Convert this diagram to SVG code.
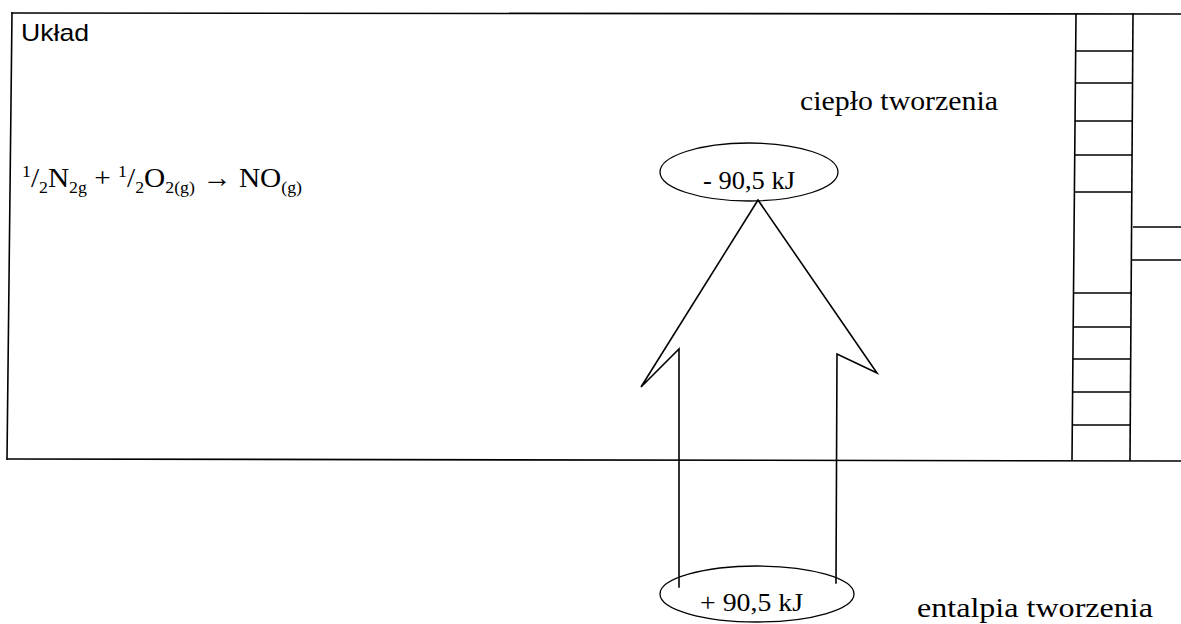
<svg xmlns="http://www.w3.org/2000/svg" width="1181" height="624" viewBox="0 0 1181 624">
  <style>
    .ln { fill: none; stroke: #000; stroke-width: 1.6; stroke-linecap: square; }
    .thin { fill: none; stroke: #000; stroke-width: 1.3; }
    .serif { font-family: "Liberation Serif", "Times New Roman", serif; fill: #000; }
    .sans { font-family: "Liberation Sans", Arial, sans-serif; fill: #000; }
  </style>
  <rect width="1181" height="624" fill="#fff"/>

  <!-- system boundary -->
  <g id="system">
    <path class="ln" d="M12,13 L1181,14"/>
    <path class="ln" d="M12,13 L7,459"/>
    <path class="ln" d="M7,459 L1181,461"/>
    <text class="sans" x="21" y="41" font-size="24" textLength="68" lengthAdjust="spacingAndGlyphs">Układ</text>
  </g>

  <!-- wall column on the right -->
  <g id="wall">
    <path class="ln" d="M1076,14 L1072,460"/>
    <path class="ln" d="M1133,14 L1130,460"/>
    <path class="thin" d="M1076,51 H1133 M1076,83 H1133 M1075,121 H1132 M1075,155 H1132 M1075,192 H1132 M1074,293 H1131 M1074,327 H1131 M1073,359 H1131 M1073,392 H1130 M1073,425 H1130"/>
    <path class="thin" d="M1133,227 H1181 M1132,260 H1181"/>
  </g>

  <!-- reaction equation -->
  <g id="equation">
    <text class="serif" x="22" y="187" font-size="28" textLength="280" lengthAdjust="spacingAndGlyphs"><tspan font-size="17" dy="-10">1</tspan><tspan dy="10">/</tspan><tspan font-size="17" dy="6">2</tspan><tspan dy="-6">N</tspan><tspan font-size="17" dy="6">2g</tspan><tspan dy="-6"> + </tspan><tspan font-size="17" dy="-10">1</tspan><tspan dy="10">/</tspan><tspan font-size="17" dy="6">2</tspan><tspan dy="-6">O</tspan><tspan font-size="17" dy="6">2(g)</tspan><tspan dy="-6"> → NO</tspan><tspan font-size="17" dy="6">(g)</tspan></text>
  </g>

  <!-- labels -->
  <g id="label-heat">
    <text class="serif" x="800" y="110" font-size="27" textLength="198" lengthAdjust="spacingAndGlyphs">ciepło tworzenia</text>
  </g>
  <g id="label-enthalpy">
    <text class="serif" x="917" y="617" font-size="28" textLength="236" lengthAdjust="spacingAndGlyphs">entalpia tworzenia</text>
  </g>

  <!-- value ellipses -->
  <g id="value-top">
    <ellipse class="thin" cx="749" cy="172" rx="89" ry="29"/>
    <text class="serif" x="703" y="189" font-size="25" textLength="92" lengthAdjust="spacingAndGlyphs">- 90,5 kJ</text>
  </g>
  <g id="value-bottom">
    <ellipse class="thin" cx="757" cy="594" rx="97" ry="28"/>
    <text class="serif" x="700" y="611" font-size="26" textLength="103" lengthAdjust="spacingAndGlyphs">+ 90,5 kJ</text>
  </g>

  <!-- block arrow linking the two values -->
  <g id="connectors">
    <path class="ln" d="M679,587 L679,349 L641,387 L758,200 L877,373 L837,354 L836,583"/>
  </g>
</svg>
